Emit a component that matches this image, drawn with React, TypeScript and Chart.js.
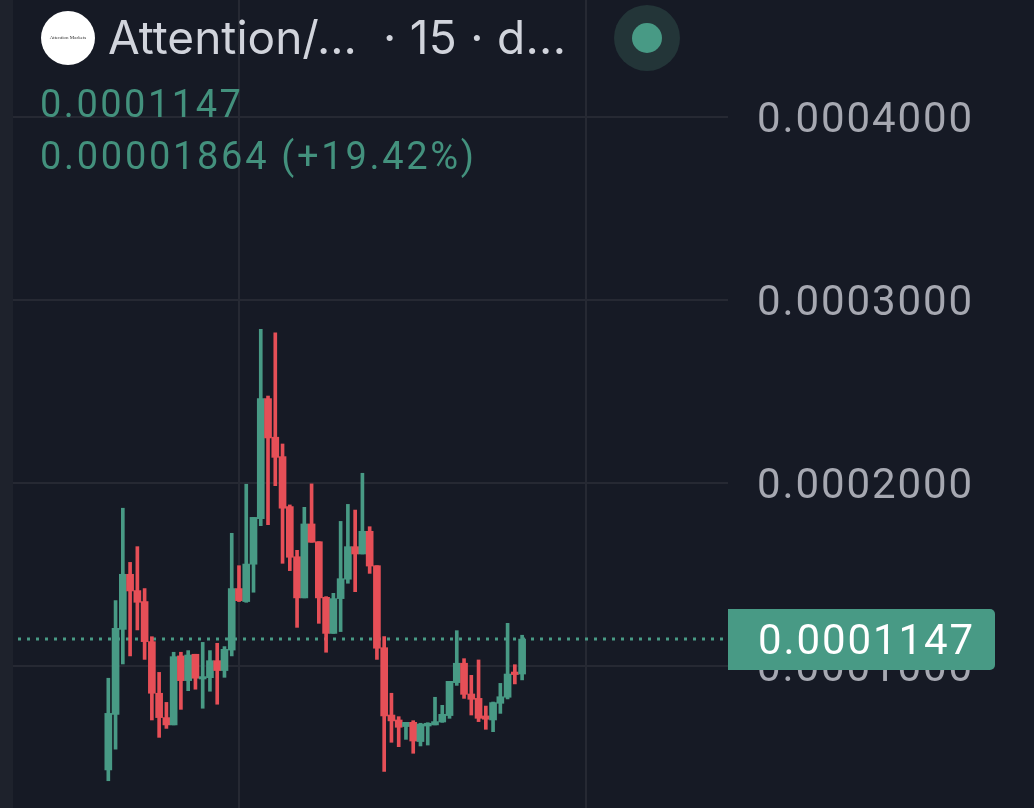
import React, { useEffect, useRef } from "react";
import { Chart, registerables } from "chart.js";

Chart.register(...registerables);

const opens = [
  0.0000432, 0.0000736, 0.00012, 0.0001501, 0.0001412, 0.0001352, 0.0001133, 0.0000851, 0.0000718, 0.0000678,
  0.0001055, 0.000092, 0.0001064, 0.0000929, 0.0000936, 0.0001029, 0.0000975, 0.0001087, 0.0001423, 0.0001352,
  0.0001556, 0.0001805, 0.0002461, 0.000225, 0.0002144, 0.0001871, 0.0001597, 0.0001372, 0.0001776, 0.0001679,
  0.0001375, 0.0001178, 0.0001368, 0.0001474, 0.0001652, 0.0001612, 0.0001736, 0.0001548, 0.00011, 0.0000732,
  0.0000705, 0.0000669, 0.0000692, 0.0000587, 0.0000672, 0.0000678, 0.0000694, 0.0000729, 0.0000909, 0.0001015,
  0.0000847, 0.0000823, 0.0000727, 0.0000705, 0.0000796, 0.0000829, 0.0000967, 0.0000956,
];
const closes = [
  0.0000741, 0.0001206, 0.0001501, 0.000141, 0.0001348, 0.0001133, 0.0000851, 0.0000718, 0.0000678, 0.0001051,
  0.000092, 0.000106, 0.0000933, 0.0000942, 0.0001029, 0.0000975, 0.0001091, 0.0001423, 0.0001357, 0.0001557,
  0.0001812, 0.0002461, 0.0002246, 0.000214, 0.0001862, 0.0001594, 0.0001372, 0.0001776, 0.0001676, 0.0001372,
  0.0001178, 0.0001368, 0.0001477, 0.0001652, 0.0001612, 0.0001736, 0.0001546, 0.0001097, 0.0000727, 0.00007,
  0.0000665, 0.0000692, 0.000059, 0.0000683, 0.0000687, 0.0000696, 0.0000736, 0.0000916, 0.0001015, 0.0000845,
  0.0000818, 0.0000714, 0.0000709, 0.00008, 0.0000832, 0.0000956, 0.0000953, 0.0001147,
];
const highs = [
  0.0000933, 0.0001357, 0.0001862, 0.0001566, 0.0001652, 0.0001423, 0.000116, 0.0000965, 0.0000801, 0.0001075,
  0.0001075, 0.0001084, 0.0001064, 0.0001129, 0.0001084, 0.0001124, 0.0001106, 0.0001725, 0.0001548, 0.0001993,
  0.0001812, 0.000284, 0.0002475, 0.0002821, 0.0002213, 0.000188, 0.0001632, 0.0001867, 0.0001995, 0.0001679,
  0.0001379, 0.0001397, 0.000179, 0.0001883, 0.0001852, 0.0002053, 0.0001761, 0.0001548, 0.000116, 0.0000851,
  0.0000723, 0.0000692, 0.0000701, 0.0000687, 0.000069, 0.0000829, 0.0000785, 0.0000916, 0.0001193, 0.000104,
  0.0000949, 0.0001033, 0.0000781, 0.0000803, 0.0000905, 0.0001233, 0.0001007, 0.0001168,
];
const lows = [
  0.0000373, 0.0000545, 0.0001011, 0.0001055, 0.0001197, 0.0001036, 0.0000705, 0.000061, 0.0000659, 0.0000678,
  0.0000763, 0.0000865, 0.0000873, 0.0000769, 0.0000862, 0.0000791, 0.0000938, 0.0001055, 0.0001352, 0.0001348,
  0.0001403, 0.0001767, 0.0001772, 0.0001985, 0.0001561, 0.0001521, 0.0001211, 0.0001372, 0.0001676, 0.0001233,
  0.0001075, 0.0001178, 0.0001188, 0.0001452, 0.0001406, 0.0001612, 0.0001506, 0.0001036, 0.0000424, 0.0000583,
  0.0000559, 0.0000599, 0.0000523, 0.0000563, 0.0000568, 0.0000678, 0.0000692, 0.0000714, 0.0000894, 0.0000823,
  0.0000732, 0.0000696, 0.0000654, 0.0000641, 0.0000741, 0.000082, 0.0000902, 0.0000924,
];
const priceTicks = [0.0001, 0.0002, 0.0003, 0.0004];
const timeTicks = [18.05, 65.8];
const lastPrice = 0.0001147;
const priceLabel = "0.0001147";
const changeLabel = "0.00001864 (+19.42%)";
const titleLabel = "Attention/...";
const titleTail = "· 15 · d...";
const logoLabel = "Attention Markets";

const BG = "#161a25";
const GREEN = "#489a85";
const RED = "#e64f57";
const GRID = "#262933";
const UI_FONT = "Inter, 'Noto Sans', sans-serif";
const NUM_FONT = "Roboto, 'Noto Sans', sans-serif";

const xMin = -14.92;
const xMax = 85.36;

const barColors = opens.map((o, i) => (closes[i] >= o ? GREEN : RED));

const priceTag = {
  id: "priceTag",
  beforeDraw(chart: any) {
    chart.ctx.letterSpacing = "1.9px";
  },
  afterDraw(chart: any) {
    const { ctx, chartArea, scales } = chart;
    const y = scales.y.getPixelForValue(lastPrice);
    const left = chartArea.right;
    ctx.save();
    ctx.fillStyle = GREEN;
    ctx.beginPath();
    ctx.roundRect(left, y - 30, 267, 61, [0, 5, 5, 0]);
    ctx.fill();
    ctx.fillStyle = "#ffffff";
    ctx.font = "42px " + NUM_FONT;
    ctx.textAlign = "left";
    ctx.textBaseline = "middle";
    ctx.fillText(priceLabel, left + 30, y + 4);
    ctx.restore();
  },
};

export default function App() {
  const ref = useRef<HTMLCanvasElement | null>(null);

  useEffect(() => {
    if (!ref.current) return;
    const chart = new Chart(ref.current, {
      type: "bar",
      data: {
        datasets: [
          {
            type: "line",
            data: [
              { x: xMin, y: lastPrice },
              { x: xMax, y: lastPrice },
            ],
            borderColor: GREEN,
            borderWidth: 3,
            borderDash: [3, 6],
            pointRadius: 0,
            order: 3,
          } as any,
          {
            data: opens.map((_, i) => ({ x: i, y: [lows[i], highs[i]] })),
            backgroundColor: barColors,
            barThickness: 3,
            grouped: false,
            order: 2,
          } as any,
          {
            data: opens.map((o, i) => ({ x: i, y: [o, closes[i]] })),
            backgroundColor: barColors,
            barThickness: 7,
            grouped: false,
            order: 1,
          } as any,
        ],
      },
      options: {
        responsive: false,
        animation: false,
        layout: { padding: 0 },
        plugins: { legend: { display: false }, tooltip: { enabled: false } },
        scales: {
          x: {
            type: "linear",
            min: xMin,
            max: xMax,
            offset: false,
            afterBuildTicks: (s: any) => {
              s.ticks = timeTicks.map((value) => ({ value }));
            },
            afterFit: (s: any) => {
              s.height = 0;
              s.paddingLeft = 0;
              s.paddingRight = 0;
            },
            ticks: { display: false },
            grid: { color: GRID, lineWidth: 2, drawTicks: false, offset: false },
            border: { display: false },
          },
          y: {
            position: "right",
            min: 0.0000224,
            max: 0.0004639,
            afterBuildTicks: (s: any) => {
              s.ticks = priceTicks.map((value) => ({ value }));
            },
            afterFit: (s: any) => {
              s.width = 306;
              s.paddingTop = 0;
              s.paddingBottom = 0;
            },
            ticks: {
              color: "#a6a8b1",
              font: { family: NUM_FONT, size: 42 },
              padding: 29,
              labelOffset: 5,
              callback: (v: any) => Number(v).toFixed(7),
            },
            grid: { color: GRID, lineWidth: 2, drawTicks: false },
            border: { display: false },
          },
        },
      } as any,
      plugins: [priceTag],
    });
    return () => chart.destroy();
  }, []);

  const abs = (s: React.CSSProperties): React.CSSProperties => ({
    position: "absolute",
    whiteSpace: "pre",
    fontFamily: UI_FONT,
    ...s,
  });

  return (
    <div style={{ position: "fixed", left: 0, top: 0, width: 1034, height: 808, background: BG, overflow: "hidden" }}>
      <canvas ref={ref} width={1034} height={808} style={{ position: "absolute", left: 0, top: 0, width: 1034, height: 808 }} />
      <div style={abs({ left: 0, top: 0, width: 13, height: 808, background: "#1e222c" })} />
      <div
        style={abs({
          left: 41,
          top: 11,
          width: 54,
          height: 54,
          borderRadius: "50%",
          background: "#fff",
          color: "#333",
          fontFamily: "'Liberation Serif', serif",
          fontSize: 5,
          textAlign: "center",
          lineHeight: "54px",
        })}
      >
        {logoLabel}
      </div>
      <div style={abs({ left: 108, top: 10, fontSize: 46, lineHeight: "54px", color: "#d1d4dc" })}>{titleLabel}</div>
      <div style={abs({ left: 383, top: 10, fontSize: 46, lineHeight: "54px", letterSpacing: 0.3, color: "#d1d4dc" })}>{titleTail}</div>
      <div style={abs({ left: 614, top: 5, width: 66, height: 66, borderRadius: "50%", background: "#233538" })} />
      <div style={abs({ left: 632, top: 23, width: 30, height: 30, borderRadius: "50%", background: GREEN })} />
      <div style={abs({ left: 40, top: 82, fontFamily: NUM_FONT, fontSize: 38, lineHeight: "44px", letterSpacing: 2.5, color: "#43917d" })}>{priceLabel}</div>
      <div style={abs({ left: 40, top: 134, fontFamily: NUM_FONT, fontSize: 38, lineHeight: "44px", letterSpacing: 2.7, color: "#43917d" })}>{changeLabel}</div>
    </div>
  );
}
